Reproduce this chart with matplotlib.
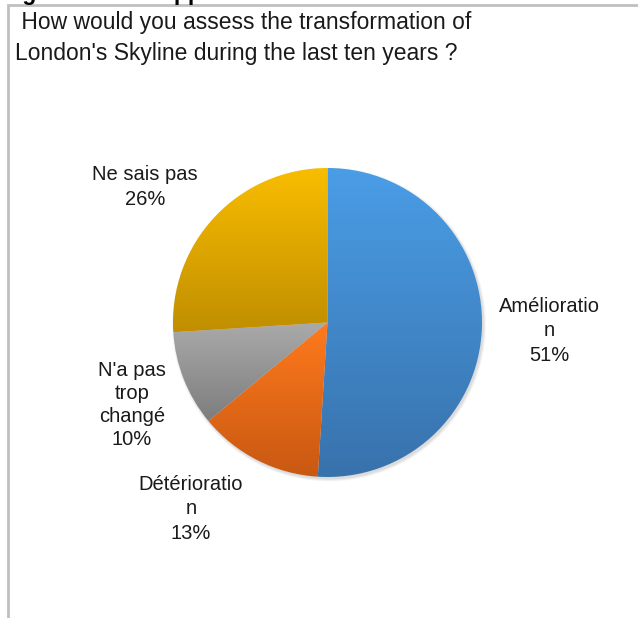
import numpy as np
import matplotlib
matplotlib.use("Agg")
import matplotlib.pyplot as plt
from matplotlib.colors import LinearSegmentedColormap
from matplotlib.patches import Circle

plt.rcParams['font.family'] = ['Liberation Sans', 'DejaVu Sans']

# data
labels = ["Amélioratio\nn", "Détérioratio\nn", "N'a pas\ntrop\nchangé", "Ne sais pas"]
shares = [51, 13, 10, 26]
# gradient (top colour, bottom colour) per slice
grad_colors = [("#4A9DE6", "#3872AC"),
               ("#FF7A1C", "#C85812"),
               ("#AAAAAA", "#7D7D7D"),
               ("#F9BD00", "#C08E00")]
title = " How would you assess the transformation of\nLondon's Skyline during the last ten years ?"
cut_heading = "Figure 3 : Une appréciation"

W, H = 638, 618
fig = plt.figure(figsize=(W / 100, H / 100), dpi=100)
ax = fig.add_axes([0, 0, 1, 1])

# chart frame (cut on the right and bottom)
ax.plot([7.5, 7.5, W + 5], [-5, 613.5, 613.5], color="#C0C0C0", lw=2,
        solid_joinstyle='miter', zorder=1)

cx, cy, r = 327.5, H - 322.5, 154.5

# faint soft shadow
for k in range(6):
    ax.add_patch(Circle((cx + 1.5, cy - 2), r + 2.5 - k * 0.5, color="#000000",
                        alpha=0.025, lw=0, zorder=1))

wedges, _ = ax.pie(shares, center=(cx, cy), radius=r, startangle=90,
                   counterclock=False, frame=True,
                   wedgeprops=dict(edgecolor='none', linewidth=0))

grad = np.linspace(0, 1, 256).reshape(-1, 1)
for w, (top, bot) in zip(wedges, grad_colors):
    w.set_facecolor('none')
    ext = w.get_path().get_extents()
    cmap = LinearSegmentedColormap.from_list("g", [bot, top])
    im = ax.imshow(grad, cmap=cmap, origin='lower', aspect='auto',
                   extent=(ext.x0, ext.x1, ext.y0, ext.y1), zorder=2,
                   interpolation='bilinear')
    im.set_clip_path(w)

ax.set_xlim(0, W)
ax.set_ylim(0, H)
ax.set_aspect('equal')
ax.axis('off')

# slice labels
label_pos = [(549, H - 331), (191, H - 509), (132, H - 405), (145, H - 187)]
spacing = [1.35, 1.35, 1.25, 1.35]
for lab, s, (x, y), ls in zip(labels, shares, label_pos, spacing):
    ax.text(x, y, f"{lab}\n{s}%", ha='center', va='center', fontsize=14.5,
            color="#1A1A1A", linespacing=ls, zorder=3)

# title
fig.text(15 / W, 1 - 11 / H, title, ha='left', va='top', fontsize=16.5,
         color="#1A1A1A", linespacing=1.42)

# heading of the page, cut off at the top
fig.text(2 / W, 1.0, cut_heading, ha='left', va='baseline', fontsize=16.5,
         fontweight='bold', color="black")

fig.savefig("out.png", dpi=100)
